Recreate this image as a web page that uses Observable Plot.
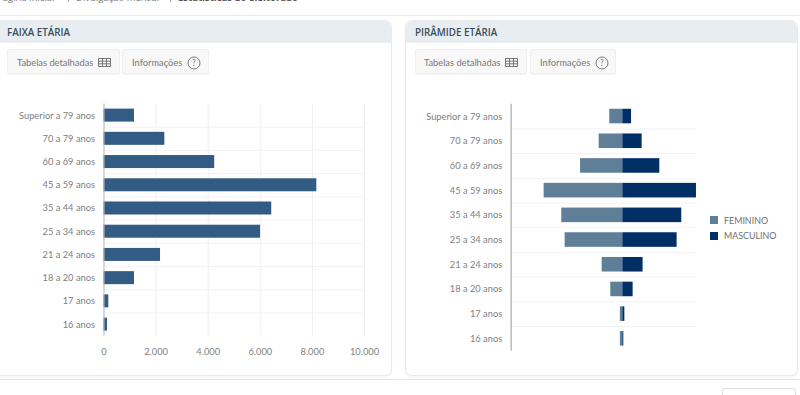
<!DOCTYPE html>
<html><head><meta charset="utf-8">
<script src="https://cdn.jsdelivr.net/npm/d3@7"></script>
<script src="https://cdn.jsdelivr.net/npm/@observablehq/plot@0.6"></script>
<style>
html,body{margin:0;padding:0;background:#fff;width:800px;height:395px;overflow:hidden;font-family:Lato,sans-serif;color:#666}
.abs{position:absolute;box-sizing:border-box}
.panel{background:#fff;border:1px solid #e8eaec;border-radius:7px;box-shadow:0 1px 2px rgba(0,0,0,.05)}
.head{background:#e8edf1;border-radius:7px 7px 0 0;font-family:"Open Sans",sans-serif;font-size:9.8px;font-weight:600;color:#3a4d5c;line-height:23px;height:22px}
.btn{background:#f8f8f8;border:1px solid #eeefef;border-radius:2px;font-size:9.3px;color:#777;line-height:26px;white-space:nowrap;box-shadow:0 1px 1px rgba(0,0,0,.04)}
.crumb{font-family:"Open Sans",sans-serif;font-size:9.5px;color:#777;white-space:nowrap;line-height:12px}
svg{position:absolute;overflow:visible}
</style></head><body>
<div id="root"></div>
<script>
const categories=["Superior a 79 anos","70 a 79 anos","60 a 69 anos","45 a 59 anos","35 a 44 anos","25 a 34 anos","21 a 24 anos","18 a 20 anos","17 anos","16 anos"];
const totals=[1170,2335,4250,8170,6440,6010,2170,1170,185,135];
const feminino=[700,1270,2270,4230,3280,3100,1110,645,130,130];
const masculino=[470,1040,1990,3960,3170,2920,1090,555,110,55];
const xTicks=[0,2000,4000,6000,8000,10000];
const legendLabels=["FEMININO","MASCULINO"];
const colorBar="#335c85",colorF="#5f7f99",colorM="#002f66";
const root=document.getElementById("root");
function box(cls,l,t,w,h,html){const d=document.createElement("div");d.className="abs "+cls;d.style.cssText=`left:${l}px;top:${t}px;width:${w}px;height:${h}px`;if(html)d.innerHTML=html;root.append(d);return d;}
const grid=`<svg style="position:static;vertical-align:-1px;margin-left:2px" width="13" height="9" viewBox="0 0 13 9"><path d="M.5.5h12v8H.5zM.5 3.2h12M.5 5.8h12M4.5.5v8M8.5.5v8" fill="none" stroke="#777"/></svg>`;
const help=`<svg style="position:static;vertical-align:-3.5px;margin-left:2px" width="14" height="14" viewBox="0 0 14 14"><circle cx="7" cy="7" r="6" fill="none" stroke="#777"/><text x="7" y="10" text-anchor="middle" font-size="8.5" fill="#777">?</text></svg>`;
box("",0,15,800,1).style.background="#e9e9e9";
[["Página inicial",-3,63],["Divulgação mensal",76,84],["Estatísticas do eleitorado",178,120]].forEach(([t,l,w],i)=>{
  const c=box("crumb",l,-8,w+4,12,t);if(i==2){c.style.fontWeight="700";c.style.color="#555";}
});
[68,170].forEach(x=>{box("",x,0,1,2).style.background="#aaa";});
box("panel",-8,20,400,356);
box("panel",405,20,393,356);
box("head",-7,21,398,22).innerHTML='<span style="margin-left:14px">FAIXA ETÁRIA</span>';
box("head",406,21,391,22).innerHTML='<span style="margin-left:9px">PIRÂMIDE ETÁRIA</span>';
box("btn",7,49,113,25,`<span style="margin-left:9px">Tabelas detalhadas</span> ${grid}`);
box("btn",122,49,87,25,`<span style="margin-left:9px">Informações</span> ${help}`);
box("btn",415,49,112,25,`<span style="margin-left:8px">Tabelas detalhadas</span> ${grid}`);
box("btn",530,49,86,25,`<span style="margin-left:9px">Informações</span> ${help}`);
box("",0,379,800,1).style.background="#e6e6e6";
const b=box("",722,388,74,20);b.style.border="1px solid #ddd";b.style.borderRadius="3px";

const W=800,H=395;
const fontStyle={background:"transparent",fontFamily:'Lato,sans-serif',fontSize:"9.3px",color:"#808080"};
const left=Plot.plot({width:W,height:H,marginTop:103.5,marginBottom:H-335.7,marginLeft:103.5,marginRight:W-364,
  style:fontStyle,
  x:{domain:[0,10000],ticks:xTicks,tickFormat:d=>d3.format(",")(d).replace(",","."),tickSize:0,tickPadding:12,label:null,grid:false},
  y:{domain:categories,paddingInner:0.44,paddingOuter:0.22,round:false,label:null,tickSize:0,tickPadding:9},
  marks:[
    Plot.ruleX(xTicks,{x:d=>d,stroke:"#eceef0",strokeOpacity:1}),
    Plot.gridY(categories.slice(0,-1),{stroke:"#f0f2f4",strokeOpacity:1,y:d=>d,dy:11.6}),
    Plot.barX(categories,{x:(d,i)=>totals[i],y:d=>d,fill:colorBar}),
    Plot.ruleX([0],{stroke:"#bbb"})
  ]});
left.style.left="0";left.style.top="0";root.append(left);

const right=Plot.plot({width:W,height:H,marginTop:103.7,marginBottom:H-350.7,marginLeft:510.7,marginRight:W-696.7,
  style:fontStyle,
  x:{domain:[-6000,4000],axis:null},
  y:{domain:categories,paddingInner:0.41,paddingOuter:0.205,round:false,label:null,tickSize:0,tickPadding:9},
  marks:[
    Plot.gridY(categories.slice(0,-1),{stroke:"#f0f2f4",strokeOpacity:1,y:d=>d,dy:12.35}),
    Plot.barX(categories,{x:(d,i)=>-feminino[i],y:d=>d,fill:colorF}),
    Plot.barX(categories,{x:(d,i)=>masculino[i],y:d=>d,fill:colorM}),
    Plot.ruleX([-6000],{stroke:"#bbb",strokeWidth:1.5})
  ]});
right.style.left="0";right.style.top="0";root.append(right);

legendLabels.forEach((l,i)=>{
  box("",710,216+i*15.7,8,8).style.background=i?colorM:colorF;
  const t=box("",724,213.5+i*15.7,70,14,l);t.style.fontSize="8.9px";t.style.color="#707070";t.style.lineHeight="14px";
});
</script></body></html>
